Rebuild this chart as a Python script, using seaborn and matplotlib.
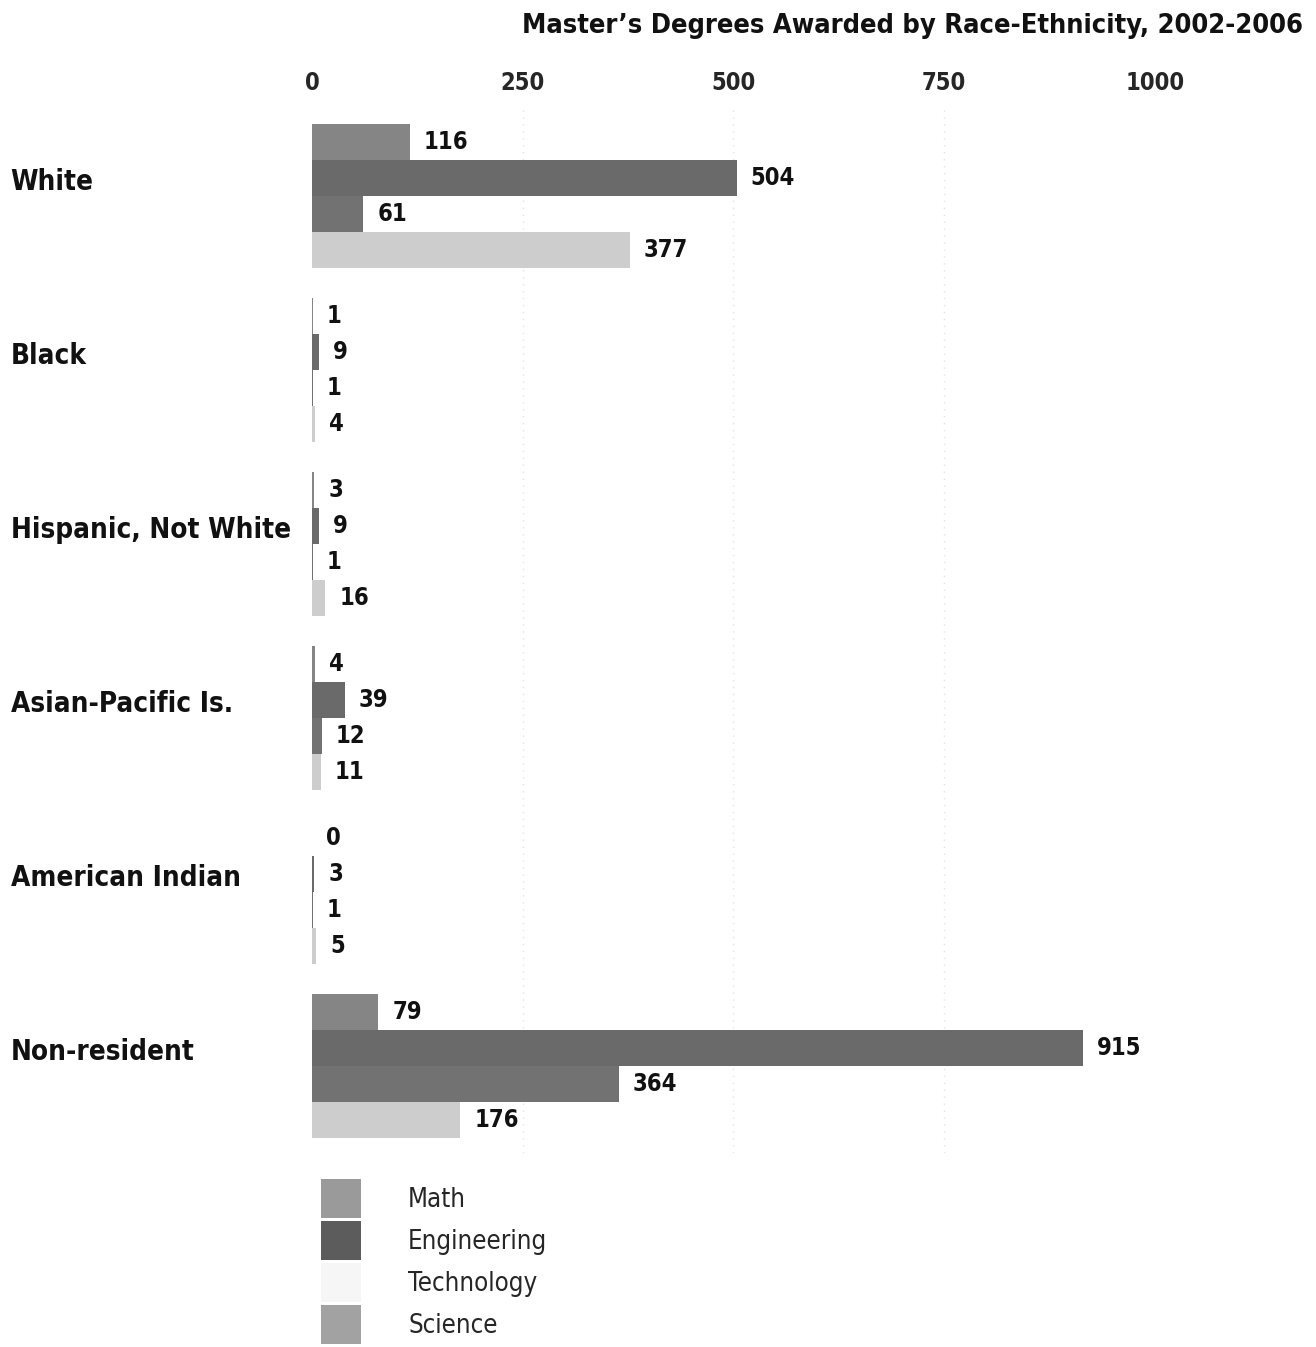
import matplotlib
matplotlib.use("Agg")
import matplotlib.pyplot as plt
from matplotlib.patches import Patch
from matplotlib.transforms import blended_transform_factory
import seaborn as sns
import pandas as pd

# Data: master's degrees awarded, 2002-2006
groups = ["White", "Black", "Hispanic, Not White", "Asian-Pacific Is.",
          "American Indian", "Non-resident"]
fields = ["Math", "Engineering", "Technology", "Science"]
math_vals = [116, 1, 3, 4, 0, 79]
engineering_vals = [504, 9, 9, 39, 3, 915]
technology_vals = [61, 1, 1, 12, 1, 364]
science_vals = [377, 4, 16, 11, 5, 176]
x_ticks = [0, 250, 500, 750, 1000]

bar_colors = ["#858585", "#6a6a6a", "#727272", "#cdcdcd"]
legend_colors = ["#9a9a9a", "#5c5c5c", "#f6f6f6", "#a2a2a2"]

rows = []
for field, vals in zip(fields, [math_vals, engineering_vals, technology_vals, science_vals]):
    for g, v in zip(groups, vals):
        rows.append({"group": g, "field": field, "count": v})
df = pd.DataFrame(rows)

sns.set_theme(style="white")
plt.rcParams["font.family"] = ["DejaVu Sans"]
plt.rcParams["font.stretch"] = "condensed"

fig = plt.figure(figsize=(13.16, 13.47), dpi=100)
ax = fig.add_axes([0.237, 0.144, 0.679, 0.775])

sns.barplot(data=df, y="group", x="count", hue="field", order=groups,
            hue_order=fields, palette=bar_colors, orient="h", width=0.83,
            linewidth=0, saturation=1, legend=False, ax=ax)

for cont in ax.containers:
    ax.bar_label(cont, padding=10, fontsize=17, fontweight="bold",
                 fontstretch="condensed", color="#111111")

ax.set_xlim(0, 1060)
ax.set_ylim(5.5, -0.5)
ax.set_xticks(x_ticks)
ax.set_xticklabels([str(t) for t in x_ticks])
ax.xaxis.tick_top()
ax.tick_params(axis="x", length=0, pad=10, labelsize=17)
for lbl in ax.get_xticklabels():
    lbl.set_fontweight("bold")
    lbl.set_fontstretch("condensed")
ax.set_yticks([])
ax.set_xlabel("")
ax.set_ylabel("")
for s in ax.spines.values():
    s.set_visible(False)
for t in x_ticks[1:4]:
    ax.axvline(t, color="#e4e4e4", lw=1, ls=(0, (1, 4)), zorder=0)

# Category labels, left aligned at the figure edge
trans = blended_transform_factory(fig.transFigure, ax.transData)
for i, g in enumerate(groups):
    ax.text(0.008, i - 0.08, g, transform=trans, ha="left", va="center",
            fontsize=20, fontweight="bold", fontstretch="condensed", color="#111111")

fig.text(0.990, 0.981, "Master\u2019s Degrees Awarded by Race-Ethnicity, 2002-2006",
         ha="right", va="center", fontsize=19.5, fontweight="bold",
         fontstretch="condensed", color="#111111")

handles = [Patch(facecolor=c, edgecolor="none") for c in legend_colors]
fig.legend(handles, fields, loc="upper left", bbox_to_anchor=(0.236, 0.132),
           frameon=False, prop={"size": 18.5, "stretch": "condensed"},
           handlelength=1.55, handleheight=1.95, labelspacing=0.12,
           handletextpad=1.85, borderaxespad=0)

fig.savefig("out.png", dpi=100)
